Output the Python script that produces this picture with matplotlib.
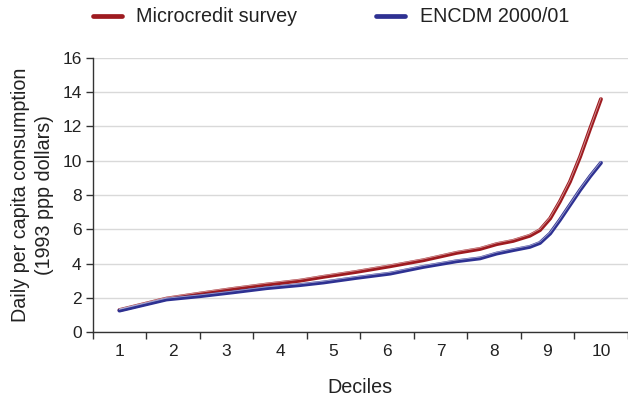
import matplotlib
matplotlib.use("Agg")
import matplotlib.pyplot as plt
import matplotlib.transforms as mtransforms
from matplotlib.lines import Line2D

plt.rcParams['font.family'] = ['Liberation Sans', 'DejaVu Sans']

# Data
red_x = [1.00, 1.88, 2.50, 3.13, 3.75, 4.38, 4.81, 5.43, 6.06, 6.68, 7.30, 7.74,
         8.05, 8.36, 8.67, 8.86, 9.05, 9.23, 9.42, 9.61, 9.80, 10.00]
red_y = [1.28, 1.95, 2.24, 2.52, 2.77, 3.00, 3.22, 3.51, 3.84, 4.19, 4.62, 4.85,
         5.13, 5.32, 5.62, 5.95, 6.63, 7.60, 8.77, 10.23, 11.89, 13.60]
blue_x = [1.00, 1.88, 2.50, 3.13, 3.75, 4.38, 4.81, 5.43, 6.06, 6.68, 7.30, 7.74,
          8.05, 8.36, 8.67, 8.86, 9.05, 9.23, 9.42, 9.61, 9.80, 10.00]
blue_y = [1.25, 1.90, 2.09, 2.32, 2.56, 2.74, 2.89, 3.16, 3.41, 3.80, 4.13, 4.30,
          4.58, 4.78, 4.97, 5.20, 5.75, 6.53, 7.41, 8.29, 9.10, 9.88]
decile_labels = ['1', '2', '3', '4', '5', '6', '7', '8', '9', '10']
decile_pos = [1, 2, 3, 4, 5, 6, 7, 8, 9, 10]
y_ticks = [0, 2, 4, 6, 8, 10, 12, 14, 16]
series_names = ['Microcredit survey', 'ENCDM 2000/01']

RED = '#9E1B20'
BLUE = '#2E3192'
TXT = '#222222'

fig = plt.figure(figsize=(6.28, 4.0), dpi=100)
ax = fig.add_axes([92.7/628, 1 - 332/400, (627.7-92.7)/628, (332-58)/400])

hl = mtransforms.offset_copy(ax.transData, fig=fig, x=0, y=0.9, units='points')
for xs, ys, c in [(red_x, red_y, RED), (blue_x, blue_y, BLUE)]:
    ax.plot(xs, ys, color=c, lw=2.8, solid_capstyle='round', zorder=3)
    ax.plot(xs, ys, color='white', lw=0.6, alpha=0.55, transform=hl, zorder=4)

ax.set_xlim(0.5, 10.5)
ax.set_ylim(0, 16)
ax.set_yticks(y_ticks)
ax.set_xticks(decile_pos)
ax.set_xticklabels(decile_labels)
ax.set_xticks([p - 0.5 for p in decile_pos] + [10.5], minor=True)
ax.tick_params(axis='x', which='major', length=0, pad=9, labelsize=12.5, labelcolor=TXT)
ax.tick_params(axis='x', which='minor', length=5, width=1, color='#333333', direction='out')
ax.tick_params(axis='y', which='major', length=5, width=1, color='#333333', labelsize=12.5,
               labelcolor=TXT, pad=3)

ax.grid(axis='y', color='#D9D9D9', lw=1.0, zorder=0)
ax.set_axisbelow(True)
for s in ['top', 'right']:
    ax.spines[s].set_visible(False)
for s in ['left', 'bottom']:
    ax.spines[s].set_color('#333333')
    ax.spines[s].set_linewidth(1.0)

ax.set_xlabel('Deciles', fontsize=14.2, color=TXT, labelpad=13)
ax.set_ylabel('Daily per capita consumption\n(1993 ppp dollars)', fontsize=14.2,
              color=TXT, labelpad=6, linespacing=1.3)

handles = [Line2D([], [], color=RED, lw=3.4, solid_capstyle='round'),
           Line2D([], [], color=BLUE, lw=3.4, solid_capstyle='round')]
fig.legend(handles, series_names, loc='center left', bbox_to_anchor=(93/628, 1 - 17/400),
           ncol=2, frameon=False, fontsize=14.2, handlelength=1.45, handletextpad=0.75,
           columnspacing=4.0, borderpad=0, borderaxespad=0, labelcolor=TXT)

fig.savefig('out.png', dpi=100)
